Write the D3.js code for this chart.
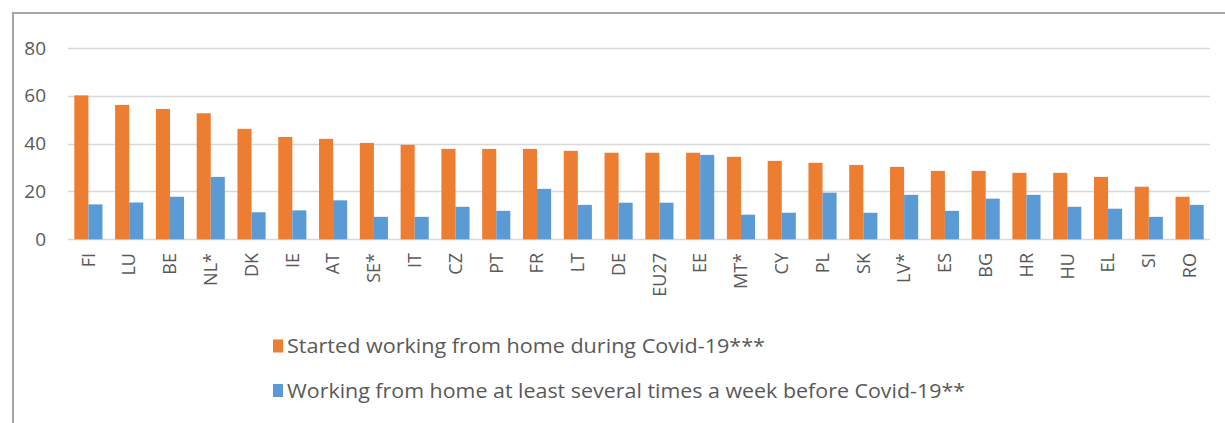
<!DOCTYPE html>
<html>
<head>
<meta charset="utf-8">
<script src="https://cdn.jsdelivr.net/npm/d3@7"></script>
<style>
  body { margin: 0; background: #fff; }
</style>
</head>
<body>
<svg id="chart"></svg>
<script>
const countries = ["FI", "LU", "BE", "NL*", "DK", "IE", "AT", "SE*", "IT", "CZ", "PT", "FR", "LT", "DE",
  "EU27", "EE", "MT*", "CY", "PL", "SK", "LV*", "ES", "BG", "HR", "HU", "EL", "SI", "RO"];
const startedDuring = [60.2, 56.2, 54.5, 52.7, 46.2, 42.8, 42.0, 40.3, 39.5, 37.8, 37.8, 37.8, 37.0, 36.2,
  36.2, 36.2, 34.5, 32.8, 32.0, 31.1, 30.3, 28.6, 28.6, 27.8, 27.8, 26.1, 22.0, 17.8];
const before = [14.6, 15.4, 17.8, 26.1, 11.3, 12.1, 16.3, 9.4, 9.4, 13.6, 11.9, 21.1, 14.4, 15.3,
  15.3, 35.3, 10.3, 11.1, 19.5, 11.1, 18.6, 11.9, 17.0, 18.6, 13.6, 12.8, 9.4, 14.4];
const yTicks = [0, 20, 40, 60, 80];
const seriesNames = ["Started working from home during Covid-19***",
  "Working from home at least several times a week before Covid-19**"];
const colors = ["#ed7d31", "#5b9bd5"];

const width = 1225, height = 423;
const svg = d3.select("#chart").attr("width", width).attr("height", height)
  .style("font-family", "'Open Sans', 'Liberation Sans', sans-serif");

// frame (only left and top edges are visible)
svg.append("line").attr("x1", 13).attr("x2", 13).attr("y1", 13).attr("y2", height)
  .attr("stroke", "#a6a6a6").attr("stroke-width", 2);
svg.append("line").attr("x1", 12).attr("x2", width).attr("y1", 13).attr("y2", 13)
  .attr("stroke", "#a6a6a6").attr("stroke-width", 2);

const x0 = 68, x1 = 1210;
const y = d3.scaleLinear().domain([0, 80]).range([239.3, 48]);
const x = d3.scaleBand().domain(countries).range([x0, x1]).paddingInner(0.31).paddingOuter(0.155);
const xs = d3.scaleBand().domain([0, 1]).range([0, x.bandwidth()]);

// gridlines
svg.append("g").selectAll("line").data(yTicks).join("line")
  .attr("x1", x0).attr("x2", x1)
  .attr("y1", d => Math.round(y(d)) + 0.5).attr("y2", d => Math.round(y(d)) + 0.5)
  .attr("stroke", "#d9d9d9").attr("stroke-width", 1.5);

// y tick labels
svg.append("g").selectAll("text").data(yTicks).join("text")
  .attr("x", 46).attr("y", d => y(d)).attr("dy", "0.35em")
  .attr("text-anchor", "end").attr("fill", "#595959").style("font-size", "19px")
  .text(d => d);

// bars
const rows = countries.map((c, i) => ({ c, v: [startedDuring[i], before[i]] }));
const grp = svg.append("g").selectAll("g").data(rows).join("g")
  .attr("transform", d => `translate(${x(d.c)},0)`);
grp.selectAll("rect").data(d => d.v).join("rect")
  .attr("x", (d, i) => xs(i)).attr("width", xs.bandwidth())
  .attr("y", d => y(d)).attr("height", d => y(0) - y(d))
  .attr("fill", (d, i) => colors[i]);

// x labels, rotated
svg.append("g").selectAll("text").data(countries).join("text")
  .attr("transform", d => `translate(${x(d) + x.bandwidth() / 2},253) rotate(-90)`)
  .attr("text-anchor", "end").attr("dy", "0.35em")
  .attr("fill", "#595959").style("font-size", "18px")
  .text(d => d);

// legend
const legWidths = [478, 678];
const leg = svg.append("g").selectAll("g").data(seriesNames).join("g")
  .attr("transform", (d, i) => `translate(273,${346 + i * 44.5})`);
leg.append("rect").attr("x", 0).attr("y", -6.5).attr("width", 10).attr("height", 13)
  .attr("fill", (d, i) => colors[i]);
leg.append("text").attr("x", 14).attr("y", 0).attr("dy", "0.35em")
  .attr("fill", "#595959").style("font-size", "20px")
  .attr("textLength", (d, i) => legWidths[i]).attr("lengthAdjust", "spacingAndGlyphs")
  .text(d => d);
</script>
</body>
</html>
